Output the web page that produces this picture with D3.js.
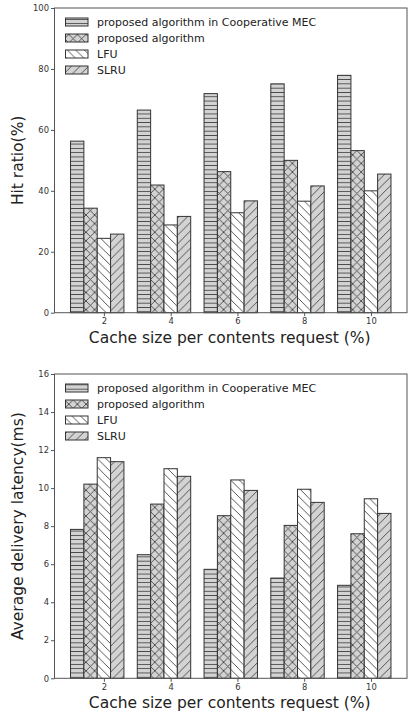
<!DOCTYPE html>
<html>
<head>
<meta charset="utf-8">
<script src="https://cdn.jsdelivr.net/npm/d3@7"></script>
<style>
  body { margin: 0; background: #fff; }
  svg text { font-family: "DejaVu Sans", sans-serif; }
</style>
</head>
<body>
<div id="chart"></div>
<script>
// data
const cacheSizes = [2, 4, 6, 8, 10];
const seriesNames = ["proposed algorithm in Cooperative MEC", "proposed algorithm", "LFU", "SLRU"];

const hitCoop = [56.3, 66.5, 71.9, 75.1, 77.9];
const hitProposed = [34.3, 41.9, 46.3, 50.0, 53.2];
const hitLFU = [24.4, 28.8, 32.8, 36.6, 40.0];
const hitSLRU = [25.8, 31.6, 36.7, 41.6, 45.5];

const latCoop = [7.83, 6.5, 5.73, 5.27, 4.89];
const latProposed = [10.21, 9.16, 8.55, 8.04, 7.6];
const latLFU = [11.6, 11.02, 10.43, 9.94, 9.44];
const latSLRU = [11.39, 10.62, 9.88, 9.25, 8.67];

const hitTicks = [0, 20, 40, 60, 80, 100];
const latTicks = [0, 2, 4, 6, 8, 10, 12, 14, 16];

const width = 408;
const height = 715;

const svg = d3.select("#chart")
    .append("svg")
    .attr("width", width)
    .attr("height", height);

/*
HATCH PATTERNS
*/
const defs = svg.append("defs");
const gray = "#d3d3d3";
const hatchColor = "#444";
const step = 8.6;

function makePattern(id, w, h, bg) {
    const p = defs.append("pattern")
        .attr("id", id)
        .attr("patternUnits", "userSpaceOnUse")
        .attr("width", w)
        .attr("height", h);
    p.append("rect").attr("width", w).attr("height", h).attr("fill", bg);
    return p;
}

// horizontal lines
const horiz = makePattern("hatch-h", 10, 4.3, gray);
horiz.append("line")
    .attr("x1", 0).attr("x2", 10).attr("y1", 2.15).attr("y2", 2.15)
    .attr("stroke", hatchColor).attr("stroke-width", 0.9);

function diag(p, dir) {
    // dir 1 = "/", -1 = "\"
    const segs = dir > 0
        ? [[0, step, step, 0], [-step, step, 0, 0], [0, 2 * step, 2 * step, 0]]
        : [[0, 0, step, step], [-step, 0, 0, step], [step, 0, 2 * step, step]];
    segs.forEach(function(s) {
        p.append("line")
            .attr("x1", s[0]).attr("y1", s[1]).attr("x2", s[2]).attr("y2", s[3])
            .attr("stroke", hatchColor).attr("stroke-width", 0.9);
    });
}

const cross = makePattern("hatch-x", step, step, gray);
diag(cross, 1);
diag(cross, -1);

const back = makePattern("hatch-b", step, step, "#fff");
diag(back, -1);

const fwd = makePattern("hatch-f", step, step, gray);
diag(fwd, 1);

const fills = ["url(#hatch-h)", "url(#hatch-x)", "url(#hatch-b)", "url(#hatch-f)"];
const offsets = [-0.8, -0.4, 0, 0.4];
const barW = 0.4;

/*
ONE PANEL
*/
function drawPanel(cfg) {
    const g = svg.append("g");
    const left = 54.5, right = 407;

    const xScale = d3.scaleLinear()
        .domain([0.52, 11.08])
        .range([left, right]);

    const yScale = d3.scaleLinear()
        .domain(cfg.domain)
        .range([cfg.bottom, cfg.top]);

    cfg.series.forEach(function(vals, s) {
        g.selectAll(null)
            .data(vals)
            .enter()
            .append("rect")
            .attr("x", function(d, i) { return xScale(cacheSizes[i] + offsets[s] - barW / 2); })
            .attr("width", xScale(barW) - xScale(0))
            .attr("y", function(d) { return yScale(d); })
            .attr("height", function(d) { return yScale(0) - yScale(d); })
            .attr("fill", fills[s])
            .attr("stroke", "#333")
            .attr("stroke-width", 1);
    });

    // frame
    g.append("rect")
        .attr("x", left).attr("y", cfg.top)
        .attr("width", right - left).attr("height", cfg.bottom - cfg.top)
        .attr("fill", "none")
        .attr("stroke", "#555")
        .attr("stroke-width", 1);

    const xAxis = g.append("g")
        .attr("transform", `translate(0,${cfg.bottom})`)
        .call(d3.axisBottom(xScale).tickValues(cacheSizes).tickSize(3.5).tickPadding(2));

    const yAxis = g.append("g")
        .attr("transform", `translate(${left},0)`)
        .call(d3.axisLeft(yScale).tickValues(cfg.ticks).tickSize(3.5).tickPadding(2));

    [xAxis, yAxis].forEach(function(a) {
        a.select(".domain").remove();
        a.selectAll(".tick line").attr("stroke", "#555");
        a.selectAll(".tick text")
            .attr("fill", "#333")
            .style("font-size", "8.4px")
            .style("font-family", "DejaVu Sans");
    });

    g.append("text")
        .attr("x", (left + right) / 2 - 1)
        .attr("y", cfg.bottom + 30)
        .attr("text-anchor", "middle")
        .style("font-size", "15.5px")
        .attr("fill", "#222")
        .text("Cache size per contents request (%)");

    g.append("text")
        .attr("transform", `translate(23,${(cfg.top + cfg.bottom) / 2}) rotate(-90)`)
        .attr("text-anchor", "middle")
        .style("font-size", "15.5px")
        .attr("fill", "#222")
        .text(cfg.ylabel);

    // legend
    seriesNames.forEach(function(name, i) {
        const cy = cfg.top + 14 + i * 16;
        g.append("rect")
            .attr("x", 65.5).attr("y", cy - 4)
            .attr("width", 22.5).attr("height", 8)
            .attr("fill", fills[i])
            .attr("stroke", "#333")
            .attr("stroke-width", 1);
        g.append("text")
            .attr("x", 97)
            .attr("y", cy + 4)
            .style("font-size", "11px")
            .attr("fill", "#222")
            .text(name);
    });
}

drawPanel({
    top: 8, bottom: 312.7, domain: [0, 100], ticks: hitTicks,
    series: [hitCoop, hitProposed, hitLFU, hitSLRU],
    ylabel: "Hit ratio(%)"
});

drawPanel({
    top: 374, bottom: 678.3, domain: [0, 16], ticks: latTicks,
    series: [latCoop, latProposed, latLFU, latSLRU],
    ylabel: "Average delivery latency(ms)"
});
</script>
</body>
</html>
